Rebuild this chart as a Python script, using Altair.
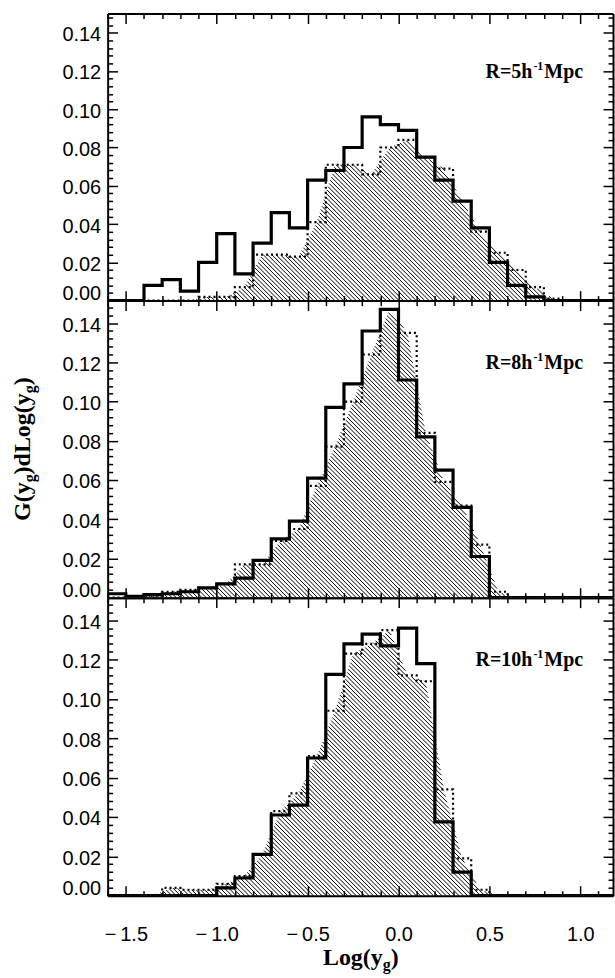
import altair as alt
import numpy as np
import pandas as pd

# ---------------- data ----------------
bin_left = [round(-1.6 + 0.1 * i, 1) for i in range(28)]  # -1.6 ... 1.1, bin width 0.1

r5_solid = [0, 0, 0.008, 0.011, 0.005, 0.020, 0.035, 0.014, 0.030, 0.046, 0.038, 0.063, 0.068, 0.080,
            0.096, 0.092, 0.089, 0.075, 0.063, 0.052, 0.038, 0.020, 0.008, 0.002, 0, 0, 0, 0]
r5_dotted = [0, 0, 0, 0, 0, 0.002, 0.002, 0.007, 0.024, 0.024, 0.023, 0.041, 0.071, 0.071,
             0.066, 0.080, 0.084, 0.075, 0.069, 0.052, 0.036, 0.025, 0.016, 0.007, 0.001, 0, 0, 0]

r8_solid = [0.002, 0.0006, 0.0015, 0.002, 0.003, 0.005, 0.007, 0.010, 0.019, 0.030, 0.039, 0.061, 0.097, 0.109,
            0.136, 0.147, 0.111, 0.082, 0.065, 0.046, 0.021, 0, 0, 0, 0, 0, 0, 0]
r8_dotted = [0, 0.0005, 0.001, 0.003, 0.004, 0.005, 0.007, 0.017, 0.017, 0.029, 0.035, 0.057, 0.077, 0.100,
             0.124, 0.147, 0.135, 0.084, 0.059, 0.047, 0.027, 0.003, 0, 0, 0, 0, 0, 0]

r10_solid = [0, 0, 0, 0, 0, 0, 0.004, 0.009, 0.021, 0.041, 0.046, 0.070, 0.1125, 0.128,
             0.133, 0.127, 0.136, 0.118, 0.0375, 0.012, 0, 0, 0, 0, 0, 0, 0, 0]
r10_dotted = [0, 0, 0, 0.004, 0.003, 0.003, 0.006, 0.010, 0.021, 0.043, 0.052, 0.071, 0.094, 0.123,
              0.128, 0.135, 0.112, 0.109, 0.054, 0.019, 0.003, 0, 0, 0, 0, 0, 0, 0]

x_tick_values = [round(-1.6 + 0.1 * i, 1) for i in range(28)]
x_label_values = [-1.5, -1.0, -0.5, 0.0, 0.5, 1.0]
y_tick_values = [round(0.004 * i, 3) for i in range(39)]
y_label_values = [0.0, 0.02, 0.04, 0.06, 0.08, 0.10, 0.12, 0.14]

panel_labels = [("R=5h", "-1", "Mpc"), ("R=8h", "-1", "Mpc"), ("R=10h", "-1", "Mpc")]

# ---------------- layout constants ----------------
W = 507
XMIN, XMAX = -1.6, 1.18
TICK_FONT = "Liberation Sans"
TICK_SIZE = 20
SERIF = "Liberation Serif"

TNB = {'G': 0.778, '(': 0.333, 'y': 0.5, ')': 0.333, 'd': 0.556, 'L': 0.667, 'o': 0.5, 'g': 0.5,
       'R': 0.722, '=': 0.570, '5': 0.5, '8': 0.5, '1': 0.5, '0': 0.5, 'h': 0.556, 'M': 0.944,
       'p': 0.556, 'c': 0.444, '-': 0.333}


def tw(s, size):
    return sum(TNB[ch] for ch in s) * size


xs = alt.Scale(domain=[XMIN, XMAX], nice=False, zero=False)


def step_df(vals):
    return pd.DataFrame({"x": bin_left + [1.2], "v": list(vals) + [0]})


def hatch_df(vals, H, ymax, spacing=4.3):
    kx = W / (XMAX - XMIN)
    ky = H / ymax
    centers = np.array(bin_left) + 0.05
    cx = (centers - XMIN) * kx
    cy = np.array(vals, dtype=float) * ky
    cx = np.concatenate([[cx[0] - 0.05 * kx], cx, [cx[-1] + 0.05 * kx]])
    cy = np.concatenate([[0.0], cy, [0.0]])
    fmax = cy.max()
    rows = []
    c = 0.0
    while c < W + fmax:
        X = np.arange(max(0.0, c - fmax), min(c, W), 0.2)
        if len(X) > 1:
            Y = c - X
            inside = (Y <= np.interp(X, cx, cy, left=0, right=0)).astype(int)
            d = np.diff(np.concatenate([[0], inside, [0]]))
            starts = np.where(d == 1)[0]
            ends = np.where(d == -1)[0] - 1
            for a, b in zip(starts, ends):
                if X[b] - X[a] > 0.8:
                    rows.append({"x": XMIN + X[a] / kx, "y": (c - X[a]) / ky,
                                 "x2": XMIN + X[b] / kx, "y2": (c - X[b]) / ky})
        c += spacing
    return pd.DataFrame(rows)


MAJ_X = "abs(datum.value*2 - round(datum.value*2)) < 0.001"
MAJ_Y = "abs(datum.value*50 - round(datum.value*50)) < 0.001"
TICK_X = {"condition": {"test": MAJ_X, "value": 10}, "value": 5}
TICK_Y = {"condition": {"test": MAJ_Y, "value": 10}, "value": 5}
COMMON = dict(grid=False, title=None, tickColor="black", tickWidth=1.5,
              domainColor="black", domainWidth=2)
X_LABEL_EXPR = ("datum.value < 0 ? '\u2212\u2009' + format(-datum.value, '.1f') "
                ": format(datum.value, '.1f')")


def text_layer(t, px, py, size, angle=0):
    return alt.Chart(alt.Data(values=[{}])).mark_text(
        text=t, font=SERIF, fontWeight="bold", fontSize=size, align="left",
        baseline="alphabetic", angle=angle, color="black"
    ).encode(x=alt.value(px), y=alt.value(py))


def panel(solid, dotted, label, H, ymax, label_base, show_x_labels=False, y_title=False,
          x_title=False):
    ys = alt.Scale(domain=[0, ymax], nice=False, zero=False)
    yt = [v for v in y_tick_values if v <= ymax]
    ax_x_lab = alt.Axis(orient="bottom", values=x_label_values, ticks=False, labels=show_x_labels,
                        domain=True, labelExpr=X_LABEL_EXPR, labelFont=TICK_FONT,
                        labelFontSize=TICK_SIZE, labelColor="black", labelPadding=29,
                        labelFlush=False, labelOverlap=False, **COMMON)
    ax_x_in_bottom = alt.Axis(orient="top", offset=-H, values=x_tick_values, labels=False,
                              domain=False, tickSize=TICK_X, **COMMON)
    ax_x_in_top = alt.Axis(orient="bottom", offset=-H, values=x_tick_values, labels=False,
                           domain=True, tickSize=TICK_X, **COMMON)
    ax_y_lab = alt.Axis(orient="left", values=y_label_values, ticks=False, labels=True, domain=True,
                        format=".2f", labelFont=TICK_FONT, labelFontSize=TICK_SIZE,
                        labelColor="black", labelPadding=7, labelFlush=False, labelOverlap=False,
                        labelOffset={"condition": {"test": "datum.value == 0", "value": -7}, "value": 2},
                        **COMMON)
    ax_y_in_left = alt.Axis(orient="right", offset=-W, values=yt, labels=False,
                            domain=False, tickSize=TICK_Y, **COMMON)
    ax_y_in_right = alt.Axis(orient="left", offset=-W, values=yt, labels=False,
                             domain=True, tickSize=TICK_Y, **COMMON)

    hatch = alt.Chart(hatch_df(dotted, H, ymax)).mark_rule(color="black", strokeWidth=1).encode(
        x=alt.X("x:Q", scale=xs, axis=ax_x_lab),
        y=alt.Y("y:Q", scale=ys, axis=ax_y_lab),
        x2="x2:Q", y2="y2:Q")
    dot = alt.Chart(step_df(dotted)).mark_line(
        interpolate="step-after", color="black", strokeWidth=2.2, strokeDash=[2, 3], clip=True
    ).encode(x=alt.X("x:Q", scale=xs, axis=ax_x_in_bottom),
             y=alt.Y("v:Q", scale=ys, axis=ax_y_in_left))
    sol = alt.Chart(step_df(solid)).mark_line(
        interpolate="step-after", color="black", strokeWidth=3.2, clip=True
    ).encode(x=alt.X("x:Q", scale=xs, axis=ax_x_in_top),
             y=alt.Y("v:Q", scale=ys, axis=ax_y_in_right))

    layers = [hatch, dot, sol]

    # panel label R=..h^-1 Mpc
    main, sup, tail = label
    fs, ss = 20, 12
    total = tw(main, fs) + tw(sup, ss) + tw(tail, fs)
    x0 = 475 - total
    layers.append(text_layer(main, x0, label_base, fs))
    layers.append(text_layer(sup, x0 + tw(main, fs) + 1, label_base - 8, ss))
    layers.append(text_layer(tail, x0 + tw(main, fs) + tw(sup, ss) + 2, label_base, fs))

    if y_title:
        pieces = [("G(y", 24, 0), ("g", 16, 5), (")dLog(y", 24, 0), ("g", 16, 5), (")", 24, 0)]
        L = sum(tw(p, s) for p, s, _ in pieces)
        yy = H / 2 + L / 2
        xb = -78
        for p, s, sh in pieces:
            layers.append(text_layer(p, xb + sh, yy, s, angle=270))
            yy -= tw(p, s)
    if x_title:
        pieces = [("Log(y", 24, 0), ("g", 16, 5), (")", 24, 0)]
        L = sum(tw(p, s) for p, s, _ in pieces)
        xx = 254 - L / 2
        for p, s, sh in pieces:
            layers.append(text_layer(p, xx, H + 70 + sh, s))
            xx += tw(p, s)

    return alt.layer(*layers).resolve_axis(x="independent", y="independent").properties(
        width=W, height=H)


top = panel(r5_solid, r5_dotted, panel_labels[0], H=288, ymax=0.150, label_base=65)
mid = panel(r8_solid, r8_dotted, panel_labels[1], H=298, ymax=0.1515, label_base=69, y_title=True)
bot = panel(r10_solid, r10_dotted, panel_labels[2], H=299, ymax=0.1515, label_base=69,
            show_x_labels=True, x_title=True)

chart = alt.vconcat(top, mid, bot, spacing=0, bounds="flush").properties(
    padding={"left": 10, "top": 10, "right": 0, "bottom": 0}
).configure_view(stroke=None).configure(background="white")

chart.save("out.html", embed_options={"renderer": "svg", "actions": False})
